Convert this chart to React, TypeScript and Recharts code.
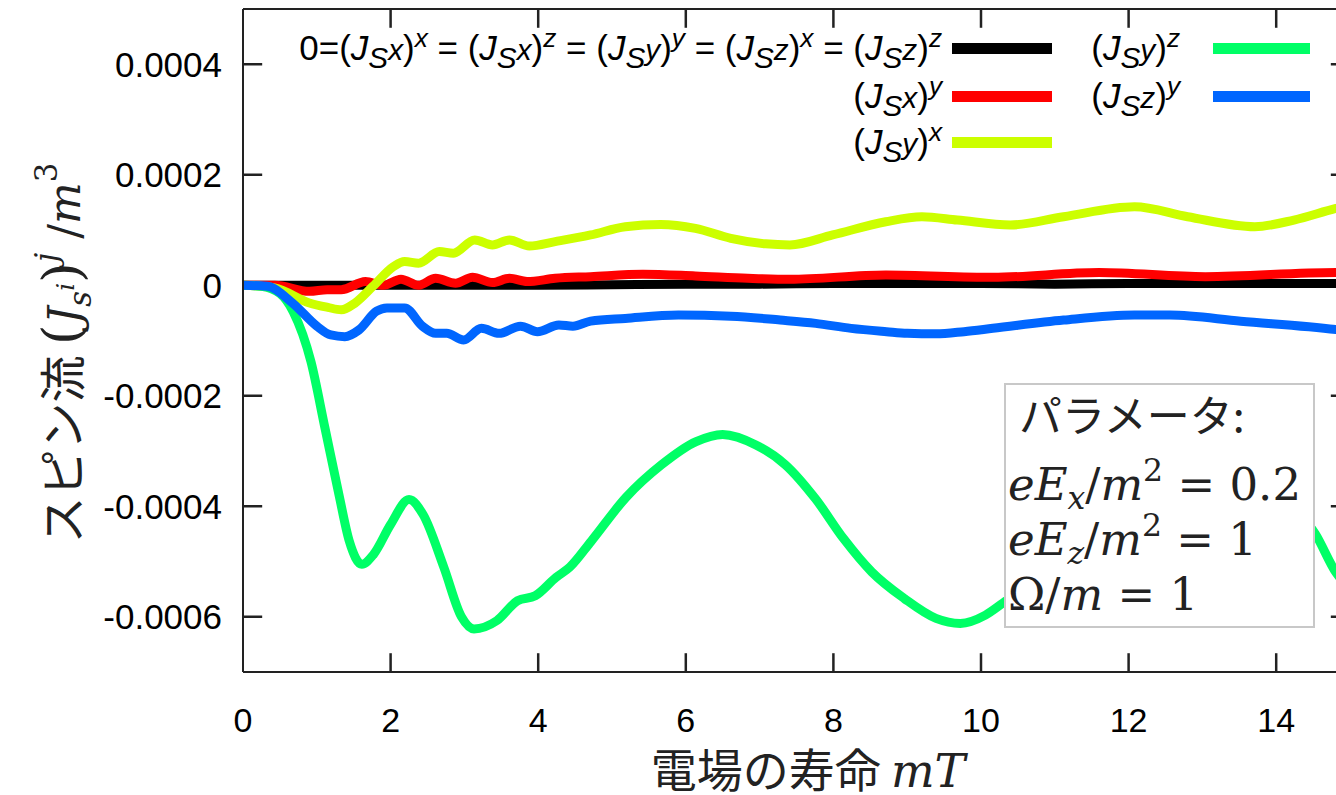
import React from 'react';
import { LineChart, Line, XAxis, YAxis, Legend } from 'recharts';

// ---- axes ----
const xTicks = [0, 2, 4, 6, 8, 10, 12, 14];
const yTicks = [-0.0006, -0.0004, -0.0002, 0, 0.0002, 0.0004];
const xDomain: [number, number] = [0, 15];
const yDomain: [number, number] = [-0.0007, 0.0005];
// length of the inward ticks on each frame edge, in data units
const tickLenY = 3.4e-5;
const tickLenX = 0.26;

// ---- series: 0 = (J_Sx)^x = (J_Sx)^z = (J_Sy)^y = (J_Sz)^x = (J_Sz)^z ----
const tBlack = [0, 1, 2, 3, 4, 5, 6, 7, 8, 9, 10, 11, 12, 13, 14, 15];
const vBlack = [0, 0, 0, 0, 0, 1e-6, 2e-6, 2e-6, 3e-6, 3e-6, 3e-6, 2e-6, 3e-6, 3e-6, 3e-6, 3e-6];

// (J_Sx)^y
const tRed = [0, 0.43, 0.9, 1.14, 1.33, 1.66, 1.9, 2.14, 2.38, 2.61, 2.88, 3.11, 3.38, 3.61, 3.85, 4.23, 4.71, 5.42, 6.13, 6.84, 7.41, 8.71, 10.16, 11.6, 13.04, 14.81, 15];
const vRed = [0, 0, -1.1e-5, -8e-6, -8e-6, 6.6e-6, 0, 1.1e-5, 0, 1.26e-5, 3.6e-6, 1.44e-5, 4.9e-6, 1.26e-5, 6.6e-6, 1.26e-5, 1.56e-5, 2.0e-5, 1.68e-5, 1.26e-5, 1.08e-5, 1.86e-5, 1.44e-5, 2.3e-5, 1.56e-5, 2.3e-5, 2.3e-5];

// (J_Sy)^x
const tYellow = [0, 0.43, 0.9, 1.15, 1.33, 1.52, 1.76, 2.04, 2.19, 2.38, 2.66, 2.85, 3.14, 3.38, 3.61, 3.88, 4.23, 4.71, 5.18, 5.66, 6.13, 6.61, 7.08, 7.41, 7.99, 8.71, 9.2, 9.68, 10.4, 11.12, 12.08, 12.8, 13.71, 14.24, 14.81, 15];
const vYellow = [0, -5e-6, -3.2e-5, -4.0e-5, -4.45e-5, -3.2e-5, -2e-6, 3.4e-5, 4.3e-5, 4.0e-5, 6.1e-5, 5.8e-5, 8.2e-5, 7.3e-5, 8.2e-5, 7.1e-5, 7.9e-5, 9.1e-5, 1.06e-4, 1.1e-4, 1.03e-4, 8.5e-5, 7.5e-5, 7.3e-5, 9.1e-5, 1.15e-4, 1.24e-4, 1.18e-4, 1.09e-4, 1.24e-4, 1.42e-4, 1.24e-4, 1.06e-4, 1.18e-4, 1.39e-4, 1.45e-4];

// (J_Sy)^z
const tGreen = [0, 0.25, 0.5, 0.68, 0.92, 1.11, 1.3, 1.44, 1.61, 1.77, 2.0, 2.25, 2.44, 2.72, 2.96, 3.13, 3.44, 3.72, 3.96, 4.24, 4.43, 4.72, 5.19, 5.67, 6.14, 6.5, 6.95, 7.35, 7.76, 8.14, 8.52, 8.96, 9.39, 9.72, 10.06, 10.3, 10.8, 11.3, 11.8, 12.3, 12.8, 13.3, 13.8, 14.2, 14.53, 14.81, 15];
const vGreen = [0, -2e-6, -1.5e-5, -4.8e-5, -1.38e-4, -2.58e-4, -3.79e-4, -4.63e-4, -5.05e-4, -4.87e-4, -4.33e-4, -3.88e-4, -4.15e-4, -5.1e-4, -6.0e-4, -6.22e-4, -6.07e-4, -5.71e-4, -5.62e-4, -5.29e-4, -5.1e-4, -4.63e-4, -3.84e-4, -3.25e-4, -2.83e-4, -2.7e-4, -2.89e-4, -3.25e-4, -3.87e-4, -4.59e-4, -5.19e-4, -5.67e-4, -6.03e-4, -6.12e-4, -5.97e-4, -5.75e-4, -5.26e-4, -4.48e-4, -3.71e-4, -3.1e-4, -2.83e-4, -2.93e-4, -3.39e-4, -3.97e-4, -4.5e-4, -5.2e-4, -5.5e-4];

// (J_Sz)^y
const tBlue = [0, 0.33, 0.67, 1.0, 1.19, 1.38, 1.57, 1.81, 1.95, 2.19, 2.43, 2.61, 2.76, 2.99, 3.23, 3.47, 3.76, 3.99, 4.28, 4.47, 4.71, 5.18, 5.9, 6.61, 7.28, 7.76, 8.24, 8.72, 9.0, 9.39, 9.77, 10.16, 11.12, 12.08, 12.56, 13.52, 14.81, 15];
const vBlue = [0, -2e-6, -3.2e-5, -7.4e-5, -9.0e-5, -9.3e-5, -8.1e-5, -4.7e-5, -4.1e-5, -4.1e-5, -7.4e-5, -8.7e-5, -8.7e-5, -9.9e-5, -7.8e-5, -8.7e-5, -7.4e-5, -8.4e-5, -7.2e-5, -7.4e-5, -6.5e-5, -6.0e-5, -5.4e-5, -5.6e-5, -6.3e-5, -6.9e-5, -7.8e-5, -8.4e-5, -8.7e-5, -8.8e-5, -8.4e-5, -7.8e-5, -6.3e-5, -5.4e-5, -5.4e-5, -6.5e-5, -8.0e-5, -8.3e-5];

const seriesColors = ['#000000', '#ff0000', '#ccff00', '#00ff66', '#0066ff'];

const toPoints = (ts: number[], vs: number[]) => ts.map((t, i) => ({ t, v: vs[i] }));

const series = [
  { key: 'zero', data: toPoints(tBlack, vBlack), color: seriesColors[0] },
  { key: 'Jsx_y', data: toPoints(tRed, vRed), color: seriesColors[1] },
  { key: 'Jsy_x', data: toPoints(tYellow, vYellow), color: seriesColors[2] },
  { key: 'Jsy_z', data: toPoints(tGreen, vGreen), color: seriesColors[3] },
  { key: 'Jsz_y', data: toPoints(tBlue, vBlue), color: seriesColors[4] },
];

// inward tick marks on all four frame edges (built from the tick arrays)
const frameTicks = [
  ...xTicks.filter((t) => t > xDomain[0]).map((t) => [{ t, v: yDomain[1] }, { t, v: yDomain[1] - tickLenY }]),
  ...xTicks.filter((t) => t > xDomain[0]).map((t) => [{ t, v: yDomain[0] }, { t, v: yDomain[0] + tickLenY }]),
  ...yTicks.map((v) => [{ t: xDomain[0], v }, { t: xDomain[0] + tickLenX, v }]),
  ...yTicks.map((v) => [{ t: xDomain[1], v }, { t: xDomain[1] - tickLenX, v }]),
];

const SANS = '"Liberation Sans", Arial, sans-serif';
const CJK = '"Noto Sans CJK JP", "Noto Sans", sans-serif';
const SERIF = '"DejaVu Serif", serif';
const AXIS = '#222222';

const MathJ = ({ a, b }: { a: string; b: string }) => (
  <span>
    (<i>J</i>
    <span style={{ fontSize: '0.85em', position: 'relative', top: '0.28em', fontStyle: 'italic' }}>
      S<span style={{ position: 'relative', top: '-0.28em' }}>{a}</span>
    </span>
    )
    <span style={{ fontSize: '0.75em', position: 'relative', top: '-0.5em', fontStyle: 'italic' }}>{b}</span>
  </span>
);

const legendRows = [
  { label: (<span>0=<MathJ a="x" b="x" /> = <MathJ a="x" b="z" /> = <MathJ a="y" b="y" /> = <MathJ a="z" b="x" /> = <MathJ a="z" b="z" /></span>), color: seriesColors[0], textRight: 942, lineLeft: 952, lineWidth: 100, cy: 48 },
  { label: <MathJ a="x" b="y" />, color: seriesColors[1], textRight: 942, lineLeft: 952, lineWidth: 100, cy: 96 },
  { label: <MathJ a="y" b="x" />, color: seriesColors[2], textRight: 942, lineLeft: 952, lineWidth: 100, cy: 142 },
  { label: <MathJ a="y" b="z" />, color: seriesColors[3], textRight: 1180, lineLeft: 1213, lineWidth: 97, cy: 48 },
  { label: <MathJ a="z" b="y" />, color: seriesColors[4], textRight: 1180, lineLeft: 1213, lineWidth: 97, cy: 96 },
];

const LegendBlock = () => (
  <div style={{ position: 'relative', width: 0, height: 0 }}>
    {legendRows.map((r, i) => (
      <React.Fragment key={i}>
        <div style={{ position: 'absolute', left: 0, width: r.textRight, top: r.cy - 20, height: 40, lineHeight: '40px', textAlign: 'right', whiteSpace: 'nowrap', fontFamily: SANS, fontSize: 35, color: '#000' }}>
          {r.label}
        </div>
        <div style={{ position: 'absolute', left: r.lineLeft, width: r.lineWidth, top: r.cy - 5.5, height: 11, background: r.color }} />
      </React.Fragment>
    ))}
  </div>
);

const fmtY = (v: number) => (Math.abs(v) < 1e-12 ? '0' : v.toFixed(4));

export default function App() {
  return (
    <div style={{ position: 'absolute', left: 0, top: 0, width: 1336, height: 795, overflow: 'hidden', background: '#fff' }}>
      <LineChart width={1400} height={795} margin={{ top: 8, right: 49, bottom: 0, left: 0 }}>
        <XAxis xAxisId="b" type="number" dataKey="t" domain={xDomain} ticks={xTicks} allowDataOverflow height={123}
          tickSize={0} tickMargin={36} axisLine={{ stroke: AXIS, strokeWidth: 2 }} tickLine={false}
          tick={{ fontSize: 34, fill: '#000', fontFamily: SANS }} />
        <XAxis xAxisId="t" orientation="top" type="number" dataKey="t" domain={xDomain} ticks={xTicks} allowDataOverflow height={1}
          tickSize={0} tick={false} axisLine={{ stroke: AXIS, strokeWidth: 2 }} tickLine={false} />
        <YAxis yAxisId="l" type="number" domain={yDomain} ticks={yTicks} allowDataOverflow width={243}
          tickSize={0} tickMargin={21} tickFormatter={fmtY} axisLine={{ stroke: AXIS, strokeWidth: 2 }} tickLine={false}
          tick={{ fontSize: 35, fill: '#000', fontFamily: SANS }} />
        <YAxis yAxisId="r" orientation="right" type="number" domain={yDomain} ticks={yTicks} allowDataOverflow width={1}
          tickSize={0} tick={false} axisLine={{ stroke: AXIS, strokeWidth: 2 }} tickLine={false} />

        {frameTicks.map((seg, i) => (
          <Line key={'tick' + i} xAxisId="b" yAxisId="l" data={seg} dataKey="v" type="linear" stroke={AXIS}
            strokeWidth={2.5} dot={false} activeDot={false} legendType="none" isAnimationActive={false} />
        ))}

        {series.map((s) => (
          <Line key={s.key} xAxisId="b" yAxisId="l" data={s.data} dataKey="v" type="monotone" stroke={s.color}
            strokeWidth={9} dot={false} activeDot={false} isAnimationActive={false} strokeLinejoin="round" strokeLinecap="round" />
        ))}
        <Legend content={() => <LegendBlock />} layout="horizontal" verticalAlign="middle" align="center"
          wrapperStyle={{ position: 'absolute', left: 0, top: 0, width: 0, height: 0, margin: 0, padding: 0 }} />
      </LineChart>

      {/* y-axis title */}
      <div style={{ position: 'absolute', left: 60, top: 353, transform: 'translate(-50%, -50%) rotate(-90deg)', whiteSpace: 'nowrap', height: 46, lineHeight: '46px', fontFamily: CJK, fontSize: 47, color: '#222' }}>
        スピン流 <span style={{ fontFamily: SERIF, fontSize: 44 }}>
          <span style={{ fontSize: '1.2em' }}>(</span>
          <i>J</i>
          <span style={{ fontSize: '0.7em', position: 'relative', top: '0.35em', fontStyle: 'italic' }}>
            s<span style={{ fontSize: '0.8em', position: 'relative', top: '-0.7em' }}>i</span>
          </span>
          <span style={{ fontSize: '1.2em' }}>)</span>
          <span style={{ fontSize: '0.7em', position: 'relative', top: '-0.75em', fontStyle: 'italic' }}>j</span>
          {' '}/<i>m</i>
          <span style={{ fontSize: '0.7em', position: 'relative', top: '-0.75em' }}>3</span>
        </span>
      </div>

      {/* x-axis title */}
      <div style={{ position: 'absolute', left: 508, width: 600, top: 745, height: 44, lineHeight: '44px', textAlign: 'center', whiteSpace: 'nowrap', fontFamily: CJK, fontSize: 46, color: '#222' }}>
        電場の寿命 <span style={{ fontFamily: SERIF, fontStyle: 'italic' }}>mT</span>
      </div>

      {/* parameter box */}
      <div style={{ position: 'absolute', left: 1004, top: 383, width: 311, height: 245, boxSizing: 'border-box', border: '2px solid #c8c8c8', background: '#fff', color: '#222' }}>
        <div style={{ position: 'absolute', left: 13, top: 6, height: 44, lineHeight: '44px', fontFamily: CJK, fontSize: 43, whiteSpace: 'nowrap' }}>パラメータ:</div>
        <div style={{ position: 'absolute', left: 2, top: 77, height: 46, lineHeight: '46px', fontFamily: SERIF, fontSize: 45, whiteSpace: 'nowrap' }}>
          <i>eE</i><span style={{ fontSize: '0.7em', position: 'relative', top: '0.3em', fontStyle: 'italic' }}>x</span>/<i>m</i><span style={{ fontSize: '0.7em', position: 'relative', top: '-0.6em' }}>2</span> = 0.2
        </div>
        <div style={{ position: 'absolute', left: 2, top: 132, height: 46, lineHeight: '46px', fontFamily: SERIF, fontSize: 45, whiteSpace: 'nowrap' }}>
          <i>eE</i><span style={{ fontSize: '0.7em', position: 'relative', top: '0.3em', fontStyle: 'italic' }}>z</span>/<i>m</i><span style={{ fontSize: '0.7em', position: 'relative', top: '-0.6em' }}>2</span> = 1
        </div>
        <div style={{ position: 'absolute', left: 2, top: 187, height: 46, lineHeight: '46px', fontFamily: SERIF, fontSize: 45, whiteSpace: 'nowrap' }}>
          Ω/<i>m</i> = 1
        </div>
      </div>
    </div>
  );
}
